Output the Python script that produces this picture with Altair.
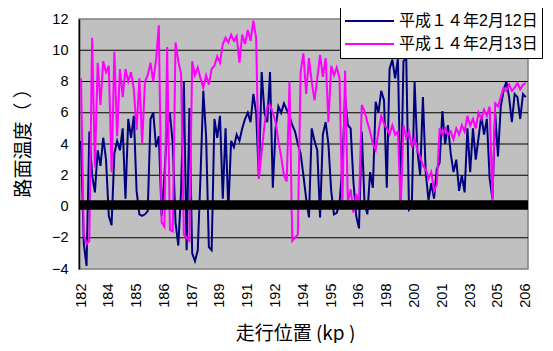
import json
import altair as alt
import pandas as pd

# ---- data ----
x_labels = ["182", "184", "185", "186", "187", "189", "191", "192", "194",
            "195", "196", "198", "200", "201", "203", "205", "206"]
series_names = ["平成１４年2月12日", "平成１４年2月13日"]
series_colors = ["#000080", "#FF00FF"]

temp_12 = [
    4.2, -2.4, -3.8, 4.8, 2.0, 0.9, 3.6, 2.6, 4.4, 3.0,
    -0.6, -1.2, 3.4, 4.2, 3.6, 5.0, 0.5, 5.6, 4.4, 5.8,
    1.0, -0.5, -0.6, -0.5, -0.3, 5.6, 6.0, 3.8, 4.5, -0.6,
    2.0, 5.0, 6.0, 4.0, -1.0, -2.5, 1.0, 8.0, -2.8, 6.3,
    -3.0, -3.5, -2.8, 2.0, 7.4, 4.5, -2.6, -2.8, 5.6, 4.4,
    5.8, 0.5, 5.0, -0.2, 4.2, 3.8, 4.6, 4.2, 5.0, 5.6,
    6.0, 5.4, 7.2, 6.0, 1.8, 8.6, 6.0, 5.4, 8.6, 1.2,
    5.0, 6.4, 6.0, 6.6, 6.2, 5.8, 5.2, 4.8, 4.0, 3.4,
    2.0, 0.5, -0.7, 5.0, 4.2, 3.6, -0.7, 4.6, 5.4, 4.0,
    1.0, -0.5, -0.4, 0.2, 2.6, 7.0, 5.2, 5.0, 1.6, -0.6,
    -1.4, 4.8, 0.2, -0.5, 2.2, 1.2, 6.7, 6.0, 7.4, 6.8,
    1.2, 8.8, 9.4, 8.2, 9.5, 0.0, 9.3, 9.5, -0.2, 0.0,
    8.0, 3.6, 2.0, 7.0, 2.2, 0.4, 1.5, 0.5, 2.4, 2.8,
    6.1, 4.0, 5.2, 3.4, 2.2, 3.0, 1.0, 2.0, 0.9, 5.0,
    2.2, 5.0, 3.0, 4.4, 5.8, 4.6, 5.6, 1.8, 0.5, 6.0,
    3.2, 6.4, 7.4, 8.0, 7.0, 5.4, 7.2, 7.0, 5.6, 7.2,
    7.0,
]

temp_13 = [
    8.2, -1.8, -2.4, -2.2, 10.8, 2.5, 9.2, 6.5, 9.3, 8.6,
    9.0, 2.2, 9.9, 4.5, 8.8, 7.0, 8.8, 8.0, 8.6, 7.5,
    4.9, 8.2, 4.0, 8.0, 8.4, 9.2, 8.0, 9.4, 11.6, -1.0,
    -1.3, 10.2, -1.5, -1.6, 10.5, 9.3, 8.5, -1.8, -2.0, -2.2,
    9.3, 8.4, 8.9, 8.2, 7.6, 8.4, 7.8, 8.8, 9.0, 9.6,
    9.2, 10.4, 10.8, 10.5, 11.0, 10.6, 10.9, 9.2, 11.0, 10.4,
    11.3, 10.6, 11.9, 10.8, 1.8, 3.5, 5.2, 6.4, 6.5, 6.0,
    5.4, 4.2, 3.2, 2.0, 1.6, 8.0, -2.2, -2.0, -1.8, 8.6,
    9.8, 7.2, 9.5, 8.0, 6.8, 8.2, 9.7, 8.3, 9.5, 5.4,
    9.0, 8.4, 8.9, 8.2, -0.2, 8.7, 0.3, 1.1, -0.4, 0.8,
    0.2, 6.5, 6.1, 5.4, 4.8, 4.0, 3.6, 4.8, 5.8, 5.3,
    5.0, 4.6, 5.2, 4.6, 4.8, -0.1, 5.2, 4.4, 4.8, 3.8,
    4.4, 3.6, 3.2, 2.6, 2.4, 1.8, 2.2, 1.0, 1.4, 5.0,
    4.6, 5.0, 4.6, 4.8, 4.3, 5.0, 4.6, 5.2, 4.8, 5.8,
    5.2, 5.6, 5.0, 6.0, 5.6, 6.2, 5.8, 6.4, 0.3, 6.6,
    6.4, 7.0, 7.6, 7.4, 7.8, 7.4, 7.6, 7.9, 7.5, 7.8,
    7.9,
]

y_ticks = [-4, -2, 0, 2, 4, 6, 8, 10, 12]
grid_lines = [-2, 2, 4, 6, 8, 10]
axis_band = [-0.2, 0.4]          # the dense tick band along the 0 line
points_per_label = 10

# ---- tables ----
rows = []
for name, vals in zip(series_names, [temp_12, temp_13]):
    for i, v in enumerate(vals):
        rows.append({"pos": i, "temp": v, "series": name})
df = pd.DataFrame(rows)
df_grid = pd.DataFrame({"temp": grid_lines})
df_band = pd.DataFrame({"temp": [axis_band[0]], "hi": [axis_band[1]]})

n = len(temp_12)
x_domain = [-0.72, n - 0.2]
tick_vals = [k * points_per_label for k in range(len(x_labels))]
label_expr = f"{json.dumps(x_labels)}[round(datum.value / {points_per_label})]"

latin = "Liberation Sans"
cjk = "Noto Sans CJK JP"

x_scale = alt.Scale(domain=x_domain, nice=False, zero=False)
y_scale = alt.Scale(domain=[y_ticks[0], y_ticks[-1]], nice=False, zero=False)

color = alt.Color(
    "series:N",
    scale=alt.Scale(domain=series_names, range=series_colors),
    legend=alt.Legend(
        title=None, orient="none", legendX=261, legendY=-12,
        fillColor="white", strokeColor="black", padding=4,
        symbolType="stroke", symbolSize=2400, symbolStrokeWidth=2,
        clipHeight=20,
        labelFont=f"{latin}, {cjk}", labelFontSize=16, labelColor="black",
        labelOffset=4, rowPadding=3,
    ),
)

x_axis = alt.Axis(
    values=tick_vals, labelExpr=label_expr, labelAngle=270,
    labelAlign="right", labelBaseline="middle", labelPadding=14,
    labelFont=latin, labelFontSize=14.5, labelColor="black",
    domain=False, ticks=False, grid=False,
    title="走行位置 (kp )", titleFont=cjk, titleFontSize=19,
    titleFontWeight="normal", titleColor="black",
    titleX=216, titleY=64, titleAlign="center", titleBaseline="middle",
)
y_axis = alt.Axis(
    values=y_ticks, labelFont=latin, labelFontSize=14.5, labelColor="black",
    labelPadding=11, ticks=False, grid=False,
    domain=True, domainColor="black", domainWidth=1.5,
    title="路面温度（ ）", titleFont=cjk, titleFontSize=19,
    titleFontWeight="normal", titleColor="black", titleAngle=270,
    titleX=-56, titleY=119, titleAlign="center", titleBaseline="middle",
)

x_enc = alt.X("pos:Q", scale=x_scale, axis=x_axis)
y_enc = alt.Y("temp:Q", scale=y_scale, axis=y_axis)

grid = alt.Chart(df_grid).mark_rule(color="black", strokeWidth=1).encode(
    y=y_enc
)

line_12 = alt.Chart(df).transform_filter(
    alt.datum.series == series_names[0]
).mark_line(strokeWidth=2).encode(x=x_enc, y=y_enc, color=color)

line_13 = alt.Chart(df).transform_filter(
    alt.datum.series == series_names[1]
).mark_line(strokeWidth=2).encode(x=x_enc, y=y_enc, color=color)

band = alt.Chart(df_band).mark_rect(color="black").encode(
    y=y_enc,
    y2="hi:Q",
    x=alt.value(0),
    x2=alt.value("width"),
)

chart = alt.layer(grid, line_12, line_13, band).properties(
    width=449, height=250,
    autosize=alt.AutoSizeParams(type="none"),
    padding={"left": 71, "top": 11, "right": 17, "bottom": 74},
    background="white",
).configure_view(
    fill="#C0C0C0", stroke="#808080", strokeWidth=1.5
)

chart.save("out.html", embed_options={"renderer": "svg", "actions": False})
